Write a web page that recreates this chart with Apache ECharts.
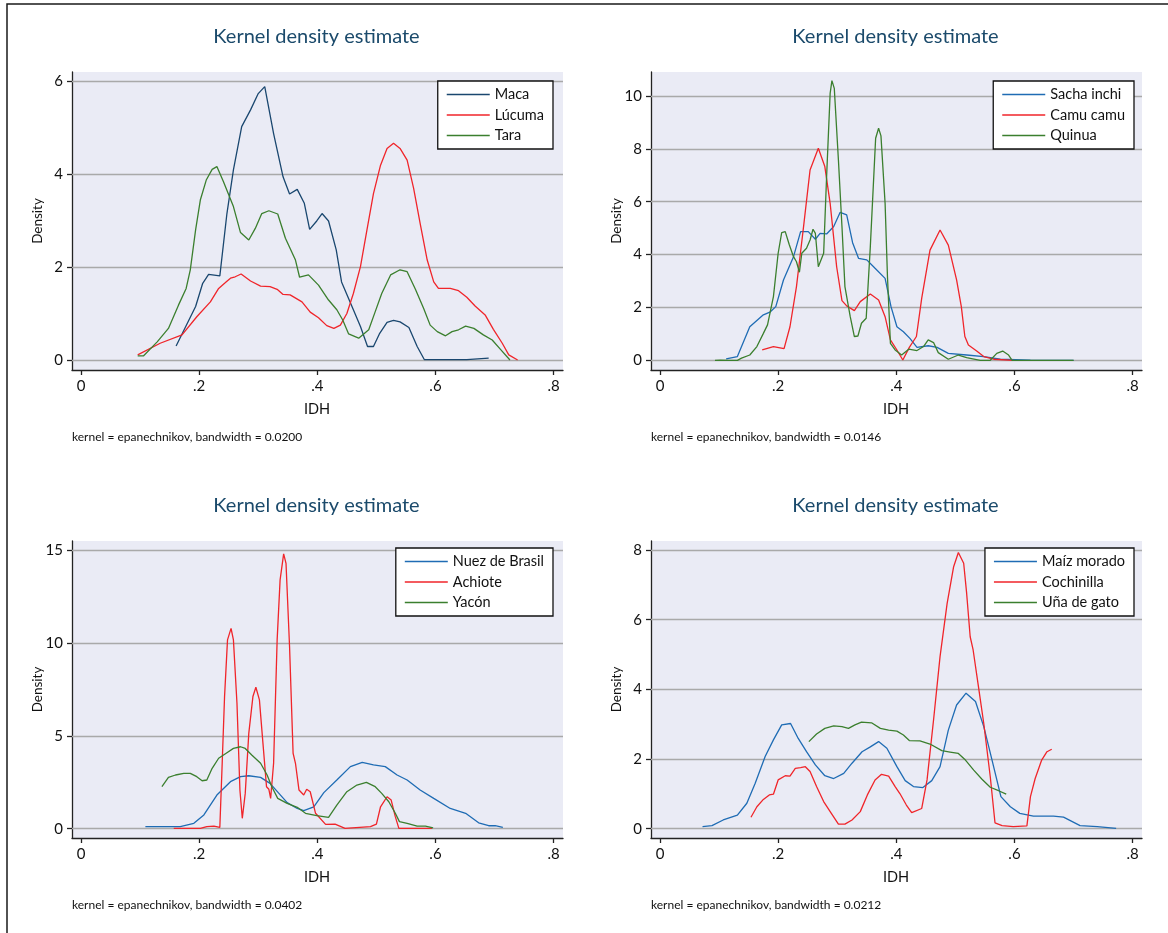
<!DOCTYPE html>
<html>
<head>
<meta charset="utf-8">
<script src="https://cdn.jsdelivr.net/npm/echarts@6/dist/echarts.min.js"></script>
<style>
html,body{margin:0;padding:0;background:#fff;}
#chart{width:1168px;height:933px;}
</style>
</head>
<body>
<div id="chart"></div>
<script>
// ---------- DATA ----------
const xTicks = [0, 0.2, 0.4, 0.6, 0.8];
const xTickLabels = ['0', '.2', '.4', '.6', '.8'];
const yTicks1 = [0, 2, 4, 6];
const yTicks2 = [0, 2, 4, 6, 8, 10];
const yTicks3 = [0, 5, 10, 15];
const yTicks4 = [0, 2, 4, 6, 8];
const titleText = 'Kernel density estimate';
const xName = 'IDH';
const yName = 'Density';
const notes = [
  'kernel = epanechnikov, bandwidth = 0.0200',
  'kernel = epanechnikov, bandwidth = 0.0146',
  'kernel = epanechnikov, bandwidth = 0.0402',
  'kernel = epanechnikov, bandwidth = 0.0212'
];
const names1 = ['Maca', 'Lúcuma', 'Tara'];
const names2 = ['Sacha inchi', 'Camu camu', 'Quinua'];
const names3 = ['Nuez de Brasil', 'Achiote', 'Yacón'];
const names4 = ['Maíz morado', 'Cochinilla', 'Uña de gato'];

const maca = [[0.161,0.30],[0.194,1.15],[0.206,1.65],[0.216,1.84],[0.235,1.81],[0.247,3.15],[0.258,4.09],[0.272,5.02],[0.287,5.38],[0.300,5.73],[0.311,5.88],[0.326,4.87],[0.342,3.94],[0.353,3.57],[0.366,3.67],[0.378,3.37],[0.387,2.81],[0.399,2.99],[0.408,3.15],[0.419,2.99],[0.432,2.37],[0.441,1.68],[0.461,1.08],[0.473,0.72],[0.485,0.29],[0.495,0.29],[0.505,0.56],[0.518,0.81],[0.529,0.85],[0.540,0.82],[0.555,0.70],[0.569,0.29],[0.581,0.01],[0.614,0.01],[0.653,0.01],[0.690,0.04]];
const lucuma = [[0.096,0.11],[0.134,0.36],[0.171,0.54],[0.196,0.93],[0.219,1.25],[0.233,1.54],[0.244,1.66],[0.253,1.76],[0.261,1.79],[0.271,1.85],[0.287,1.70],[0.304,1.59],[0.320,1.58],[0.332,1.52],[0.342,1.41],[0.354,1.40],[0.374,1.25],[0.388,1.03],[0.402,0.91],[0.416,0.74],[0.428,0.68],[0.439,0.75],[0.450,1.00],[0.461,1.43],[0.473,2.01],[0.484,2.80],[0.495,3.58],[0.507,4.19],[0.518,4.55],[0.529,4.66],[0.540,4.55],[0.552,4.30],[0.563,3.69],[0.574,2.94],[0.586,2.15],[0.597,1.68],[0.605,1.54],[0.625,1.54],[0.639,1.49],[0.653,1.35],[0.667,1.16],[0.684,0.97],[0.698,0.66],[0.713,0.36],[0.724,0.11],[0.739,0.00]];
const tara = [[0.096,0.09],[0.106,0.09],[0.129,0.39],[0.148,0.68],[0.165,1.18],[0.178,1.54],[0.185,1.94],[0.194,2.80],[0.202,3.44],[0.212,3.87],[0.222,4.10],[0.230,4.16],[0.241,3.84],[0.258,3.30],[0.270,2.74],[0.284,2.58],[0.295,2.83],[0.306,3.15],[0.318,3.21],[0.333,3.14],[0.346,2.62],[0.363,2.15],[0.370,1.78],[0.385,1.83],[0.402,1.61],[0.419,1.29],[0.433,1.08],[0.443,0.86],[0.453,0.56],[0.470,0.47],[0.487,0.65],[0.498,1.04],[0.509,1.43],[0.524,1.83],[0.540,1.94],[0.552,1.90],[0.566,1.52],[0.580,1.11],[0.591,0.75],[0.603,0.61],[0.617,0.52],[0.628,0.61],[0.639,0.65],[0.651,0.73],[0.665,0.68],[0.681,0.54],[0.696,0.43],[0.710,0.23],[0.726,0.00]];

const sacha = [[0.112,0.05],[0.131,0.14],[0.152,1.27],[0.175,1.72],[0.186,1.82],[0.196,2.03],[0.209,3.04],[0.226,3.92],[0.238,4.87],[0.251,4.87],[0.263,4.58],[0.271,4.80],[0.282,4.78],[0.294,5.06],[0.305,5.60],[0.316,5.50],[0.326,4.45],[0.336,3.86],[0.350,3.80],[0.364,3.48],[0.381,3.10],[0.391,2.03],[0.401,1.27],[0.412,1.08],[0.423,0.83],[0.435,0.49],[0.454,0.55],[0.469,0.49],[0.488,0.26],[0.519,0.20],[0.548,0.14],[0.576,0.04],[0.627,0.01],[0.700,0.00]];
const camu = [[0.173,0.39],[0.192,0.52],[0.210,0.44],[0.220,1.27],[0.231,2.79],[0.243,5.06],[0.254,7.20],[0.268,8.02],[0.279,7.33],[0.288,5.94],[0.299,3.54],[0.308,2.26],[0.316,2.06],[0.329,1.88],[0.339,2.22],[0.356,2.51],[0.370,2.28],[0.381,1.65],[0.390,0.77],[0.401,0.39],[0.411,0.01],[0.422,0.49],[0.434,0.90],[0.443,2.35],[0.457,4.17],[0.474,4.93],[0.488,4.36],[0.502,3.04],[0.510,2.03],[0.516,0.90],[0.522,0.58],[0.536,0.35],[0.548,0.14],[0.565,0.04],[0.598,0.00]];
const quinua = [[0.093,0.00],[0.102,0.01],[0.119,0.00],[0.131,0.00],[0.138,0.08],[0.152,0.20],[0.164,0.52],[0.175,1.02],[0.182,1.34],[0.185,1.34],[0.192,2.41],[0.200,4.05],[0.206,4.83],[0.212,4.87],[0.219,4.36],[0.226,3.92],[0.231,3.73],[0.236,3.33],[0.240,4.05],[0.248,4.24],[0.254,4.55],[0.259,4.96],[0.263,4.80],[0.268,3.54],[0.277,4.05],[0.282,6.95],[0.288,10.10],[0.291,10.58],[0.295,10.29],[0.302,7.58],[0.308,5.06],[0.313,2.79],[0.322,1.65],[0.329,0.90],[0.335,0.92],[0.341,1.40],[0.349,1.59],[0.356,4.30],[0.365,8.40],[0.370,8.78],[0.374,8.49],[0.381,5.94],[0.385,3.17],[0.390,0.64],[0.398,0.39],[0.409,0.20],[0.421,0.42],[0.435,0.37],[0.446,0.52],[0.454,0.77],[0.463,0.67],[0.471,0.29],[0.488,0.04],[0.505,0.20],[0.519,0.10],[0.542,0.00],[0.559,0.00],[0.570,0.26],[0.580,0.35],[0.590,0.20],[0.596,0.00],[0.627,0.00],[0.700,0.00]];

const nuez = [[0.109,0.11],[0.168,0.11],[0.191,0.29],[0.208,0.74],[0.230,1.81],[0.253,2.53],[0.270,2.80],[0.284,2.85],[0.304,2.76],[0.320,2.44],[0.335,1.90],[0.349,1.40],[0.366,1.09],[0.377,0.97],[0.394,1.18],[0.411,1.94],[0.433,2.62],[0.456,3.34],[0.476,3.57],[0.495,3.43],[0.515,3.34],[0.535,2.89],[0.552,2.62],[0.574,2.08],[0.597,1.63],[0.625,1.09],[0.651,0.83],[0.673,0.32],[0.690,0.16],[0.701,0.16],[0.714,0.07]];
const achiote = [[0.157,0.02],[0.202,0.02],[0.213,0.11],[0.225,0.14],[0.235,0.07],[0.239,3.52],[0.243,7.11],[0.248,10.16],[0.254,10.78],[0.258,10.16],[0.264,6.75],[0.269,2.08],[0.273,0.56],[0.278,1.90],[0.284,5.13],[0.291,7.11],[0.296,7.61],[0.302,6.93],[0.308,4.59],[0.314,2.26],[0.318,2.12],[0.321,1.63],[0.326,3.52],[0.332,10.16],[0.337,13.39],[0.343,14.79],[0.347,14.28],[0.353,9.80],[0.359,4.06],[0.363,3.52],[0.369,2.08],[0.377,1.81],[0.382,2.12],[0.388,1.99],[0.397,0.83],[0.414,0.23],[0.430,0.25],[0.447,0.02],[0.490,0.11],[0.500,0.25],[0.507,1.18],[0.518,1.72],[0.525,1.54],[0.532,0.65],[0.538,0.02],[0.594,0.02]];
const yacon = [[0.137,2.26],[0.148,2.76],[0.160,2.89],[0.174,2.98],[0.185,2.98],[0.196,2.80],[0.205,2.58],[0.213,2.62],[0.222,3.25],[0.233,3.79],[0.247,4.09],[0.258,4.32],[0.270,4.41],[0.278,4.32],[0.289,3.97],[0.304,3.52],[0.315,2.89],[0.323,2.26],[0.333,1.63],[0.349,1.36],[0.366,1.15],[0.380,0.83],[0.399,0.70],[0.419,0.61],[0.433,1.27],[0.450,1.99],[0.467,2.35],[0.483,2.49],[0.498,2.26],[0.509,1.90],[0.521,1.45],[0.532,0.83],[0.539,0.38],[0.552,0.29],[0.569,0.14],[0.583,0.14],[0.596,0.05]];

const maiz = [[0.072,0.06],[0.088,0.09],[0.107,0.25],[0.131,0.39],[0.147,0.73],[0.161,1.30],[0.178,2.07],[0.192,2.55],[0.206,2.98],[0.221,3.02],[0.234,2.59],[0.248,2.21],[0.263,1.83],[0.279,1.52],[0.294,1.44],[0.311,1.59],[0.325,1.88],[0.342,2.21],[0.356,2.35],[0.370,2.50],[0.384,2.31],[0.401,1.78],[0.415,1.38],[0.429,1.21],[0.445,1.18],[0.460,1.38],[0.474,1.78],[0.488,2.83],[0.502,3.55],[0.518,3.89],[0.534,3.65],[0.548,2.93],[0.562,1.97],[0.577,0.92],[0.593,0.63],[0.609,0.44],[0.632,0.36],[0.666,0.36],[0.683,0.33],[0.711,0.09],[0.740,0.06],[0.772,0.01]];
const cochinilla = [[0.154,0.33],[0.164,0.63],[0.175,0.84],[0.185,0.97],[0.192,0.99],[0.200,1.40],[0.212,1.52],[0.220,1.51],[0.229,1.73],[0.238,1.75],[0.246,1.78],[0.254,1.64],[0.265,1.21],[0.277,0.78],[0.290,0.44],[0.302,0.13],[0.313,0.13],[0.325,0.25],[0.339,0.49],[0.351,0.97],[0.364,1.40],[0.375,1.56],[0.387,1.51],[0.398,1.21],[0.406,1.01],[0.417,0.68],[0.426,0.46],[0.443,0.58],[0.452,1.40],[0.463,3.12],[0.474,4.94],[0.486,6.47],[0.497,7.52],[0.505,7.93],[0.514,7.62],[0.519,6.76],[0.525,5.51],[0.530,5.13],[0.539,4.08],[0.548,3.02],[0.559,1.49],[0.567,0.17],[0.579,0.09],[0.598,0.06],[0.621,0.08],[0.627,0.92],[0.635,1.44],[0.646,1.97],[0.655,2.21],[0.663,2.28]];
const una = [[0.252,2.50],[0.265,2.72],[0.279,2.88],[0.294,2.95],[0.308,2.93],[0.319,2.88],[0.330,2.98],[0.341,3.06],[0.358,3.04],[0.373,2.88],[0.387,2.83],[0.401,2.80],[0.412,2.69],[0.422,2.53],[0.440,2.52],[0.457,2.43],[0.477,2.24],[0.491,2.20],[0.505,2.16],[0.517,1.97],[0.531,1.68],[0.545,1.42],[0.559,1.19],[0.573,1.09],[0.586,0.99]];

// ---------- LAYOUT / STYLE ----------
const FONT = 'Lato, "Open Sans", sans-serif';
const navy = '#1a476f', blue = '#1f6cb4', red = '#f0252a', green = '#3b7f2e';
const panels = [
  {left: 72, top: 72, h: 298, ymin: -0.215, ymax: 6.194, yt: yTicks1, names: names1, data: [maca, lucuma, tara], colors: [navy, red, green], legendRight: 615, legendTop: 81},
  {left: 651, top: 72, h: 298, ymin: -0.367, ymax: 10.908, yt: yTicks2, names: names2, data: [sacha, camu, quinua], colors: [blue, red, green], legendRight: 34, legendTop: 81},
  {left: 72, top: 541, h: 297, ymin: -0.50, ymax: 15.48, yt: yTicks3, names: names3, data: [nuez, achiote, yacon], colors: [blue, red, green], legendRight: 615, legendTop: 548},
  {left: 651, top: 541, h: 297, ymin: -0.267, ymax: 8.258, yt: yTicks4, names: names4, data: [maiz, cochinilla, una], colors: [blue, red, green], legendRight: 34, legendTop: 548}
];
const W = 491;

const grid = [], xAxis = [], yAxis = [], series = [], legend = [], graphic = [];
graphic.push({type: 'rect', shape: {x: 7, y: 4, width: 1300, height: 1100}, style: {fill: 'none', stroke: '#1a1a1a', lineWidth: 1.5}, silent: true, z: 100});

panels.forEach((p, i) => {
  grid.push({left: p.left, top: p.top, width: W, height: p.h, show: true, backgroundColor: '#eaebf5', borderWidth: 0});
  xAxis.push({
    type: 'value', gridIndex: i, min: -0.0152, max: 0.8158,
    axisLine: {show: true, onZero: false, lineStyle: {color: '#222', width: 1.3}},
    axisTick: {show: true, length: 5, customValues: xTicks, lineStyle: {color: '#222', width: 1.3}},
    axisLabel: {show: true, customValues: xTicks, margin: 9, fontFamily: FONT, fontSize: 15, color: '#111',
      formatter: v => xTickLabels[Math.round(v * 5)]},
    splitLine: {show: false}
  });
  yAxis.push({
    type: 'value', gridIndex: i, min: p.ymin, max: p.ymax,
    axisLine: {show: true, onZero: false, lineStyle: {color: '#222', width: 1.3}},
    axisTick: {show: true, length: 5, customValues: p.yt, lineStyle: {color: '#222', width: 1.3}},
    axisLabel: {show: true, customValues: p.yt, margin: 9, fontFamily: FONT, fontSize: 15, color: '#111',
      formatter: v => String(Math.round(v))},
    splitLine: {show: false}
  });
  // gridlines
  series.push({
    type: 'line', name: 'grid' + i, xAxisIndex: i, yAxisIndex: i, data: [], z: 1, silent: true,
    markLine: {symbol: 'none', silent: true, animation: false, z: 1, label: {show: false},
      lineStyle: {color: '#a9a9a9', width: 1.4, type: 'solid'},
      emphasis: {disabled: true},
      data: p.yt.map(v => ({yAxis: v}))}
  });
  p.names.forEach((n, k) => {
    series.push({
      type: 'line', name: n, xAxisIndex: i, yAxisIndex: i, data: p.data[k],
      showSymbol: false, symbol: 'none', smooth: false, z: 3 + k,
      lineStyle: {color: p.colors[k], width: 1.3}, itemStyle: {color: p.colors[k]},
      emphasis: {disabled: true}
    });
  });
  legend.push({
    show: true, data: p.names, orient: 'vertical', right: p.legendRight, top: p.legendTop,
    icon: 'rect', itemWidth: 43, itemHeight: 1.4, itemGap: 5.5, padding: [6, 9, 6, 9],
    backgroundColor: '#fff', borderColor: '#111', borderWidth: 1.3, borderRadius: 0,
    selectedMode: false, z: 20,
    textStyle: {fontFamily: FONT, fontSize: 14.5, color: '#111', lineHeight: 15}
  });
  const cx = p.left + W / 2 - 1;
  graphic.push({type: 'text', x: cx, y: p.top - 35,
    style: {text: titleText, font: '20px ' + FONT, fill: '#1b4a6b', textAlign: 'center', textVerticalAlign: 'middle'}});
  graphic.push({type: 'text', y: p.top + p.h / 2, rotation: Math.PI / 2, x: p.left - 34,
    style: {text: yName, font: '13.5px ' + FONT, fill: '#111', textAlign: 'center', textVerticalAlign: 'middle'}});
  graphic.push({type: 'text', x: p.left + 9 + 236, y: p.top + p.h + 39,
    style: {text: xName, font: '14.5px ' + FONT, fill: '#111', textAlign: 'center', textVerticalAlign: 'middle'}});
  graphic.push({type: 'text', x: p.left, y: p.top + p.h + 67,
    style: {text: notes[i], font: '12px ' + FONT, fill: '#111', textAlign: 'left', textVerticalAlign: 'middle'}});
});

const chart = echarts.init(document.getElementById('chart'), null, {renderer: 'canvas'});
chart.setOption({animation: false, backgroundColor: '#fff', grid, xAxis, yAxis, series, legend, graphic});
</script>
</body>
</html>
